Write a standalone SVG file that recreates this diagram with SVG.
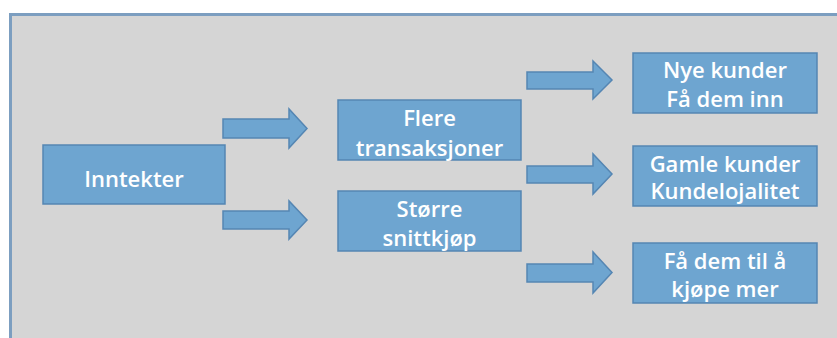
<svg xmlns="http://www.w3.org/2000/svg" width="837" height="338" viewBox="0 0 837 338">
<style>
.box{fill:#6ea5d0;stroke:#5586b3;stroke-width:1.5}
.arr{fill:#6ea5d0;stroke:#5586b3;stroke-width:1.5;stroke-linejoin:miter}
.t{font-family:"Open Sans","Liberation Sans",sans-serif;font-weight:600;font-size:22px;fill:#ffffff;text-anchor:middle}
</style>
<rect x="0" y="0" width="837" height="338" fill="#ffffff"/>
<rect id="panel" x="10.5" y="14.5" width="840" height="340" fill="#d5d5d5" stroke="#7c9ec0" stroke-width="3"/>
<g id="connectors">
<path class="arr" d="M223,119 H289 V109 L307,128.5 L289,148 V138 H223 Z"/>
<path class="arr" d="M223,211 H289 V201 L307,220 L289,239 V229 H223 Z"/>
<path class="arr" d="M527,72 H593 V61 L612,80 L593,99 V89 H527 Z"/>
<path class="arr" d="M527,166 H593 V154 L612,174 L593,194 V183 H527 Z"/>
<path class="arr" d="M527,264 H593 V252 L612,272.5 L593,293 V282 H527 Z"/>
</g>
<g id="inntekter">
<rect class="box" x="43" y="145" width="182" height="59"/>
<text class="t" x="134" y="187">Inntekter</text>
</g>
<g id="flere">
<rect class="box" x="338" y="100" width="183" height="60"/>
<text class="t" x="429.5" y="126">Flere</text>
<text class="t" x="429.5" y="156">transaksjoner</text>
</g>
<g id="storre">
<rect class="box" x="338" y="191" width="183" height="60"/>
<text class="t" x="429.5" y="217">Større</text>
<text class="t" x="429.5" y="246">snittkjøp</text>
</g>
<g id="nye">
<rect class="box" x="633" y="53" width="184" height="60"/>
<text class="t" x="725" y="78">Nye kunder</text>
<text class="t" x="725" y="107">Få dem inn</text>
</g>
<g id="gamle">
<rect class="box" x="633" y="146" width="184" height="60"/>
<text class="t" x="725" y="172">Gamle kunder</text>
<text class="t" x="725" y="199">Kundelojalitet</text>
</g>
<g id="kjope">
<rect class="box" x="633" y="243" width="184" height="60"/>
<text class="t" x="725" y="269">Få dem til å</text>
<text class="t" x="725" y="297">kjøpe mer</text>
</g>
</svg>
